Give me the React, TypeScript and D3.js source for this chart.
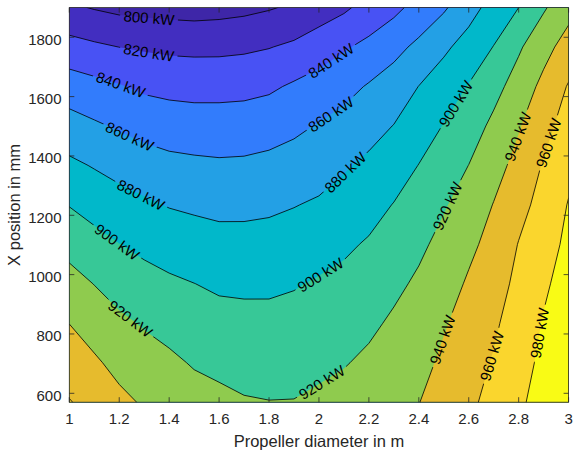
import React from 'react';
import * as d3 from 'd3';

// Grid: columns = propeller diameter (m), rows = X position (mm)
const diameters = [1.0, 1.1, 1.2, 1.3, 1.4, 1.5, 1.6, 1.7, 1.8, 1.9, 2.0, 2.1, 2.2, 2.3, 2.4, 2.5, 2.6, 2.7, 2.8, 2.9, 3.0];
const xPositions = [570, 703, 836, 969, 1102, 1235, 1368, 1501, 1634, 1767, 1900];
// power[i][j] in kW at xPositions[i], diameters[j]
const power = [
  [961.0, 953.4, 944.6, 938.0, 933.0, 927.5, 924.4, 921.4, 920.4, 920.6, 923.4, 926.3, 930.0, 934.5, 939.6, 948.3, 957.0, 964.8, 977.0, 987.0, 997.0],
  [950.6, 942.8, 934.4, 928.2, 923.7, 918.4, 915.7, 913.4, 912.8, 913.3, 916.0, 918.9, 923.4, 928.6, 934.1, 943.5, 952.1, 961.5, 972.9, 984.2, 993.8],
  [939.8, 931.4, 923.8, 918.3, 913.7, 909.3, 906.6, 905.4, 905.1, 906.2, 909.0, 911.8, 916.5, 922.8, 928.6, 938.4, 947.2, 957.1, 968.9, 981.3, 990.6],
  [927.1, 919.6, 912.3, 907.1, 903.2, 900.2, 897.1, 896.6, 896.8, 898.7, 901.9, 904.7, 909.2, 916.0, 923.0, 931.8, 942.3, 951.7, 964.8, 977.2, 987.4],
  [913.7, 906.5, 900.3, 895.4, 891.4, 888.8, 886.5, 886.3, 887.0, 889.1, 892.6, 896.9, 901.9, 908.3, 916.4, 925.3, 935.9, 946.2, 960.7, 972.0, 984.2],
  [899.3, 892.9, 887.5, 883.1, 879.0, 876.9, 875.2, 875.4, 876.7, 879.3, 882.4, 887.6, 893.2, 900.7, 908.4, 918.4, 928.0, 940.7, 953.8, 966.8, 981.0],
  [884.0, 878.7, 873.5, 868.8, 865.3, 863.8, 862.7, 863.2, 865.1, 868.0, 871.9, 878.0, 883.9, 890.7, 900.4, 909.5, 920.2, 932.7, 946.3, 961.6, 975.3],
  [867.7, 862.6, 857.8, 853.4, 850.6, 849.3, 849.0, 849.6, 851.9, 856.1, 861.3, 866.7, 873.3, 880.5, 890.4, 900.8, 910.7, 924.3, 938.4, 953.9, 968.4],
  [850.1, 845.8, 841.4, 836.6, 834.5, 833.5, 833.7, 834.5, 836.9, 842.6, 847.7, 853.8, 861.7, 868.7, 880.3, 889.5, 901.1, 913.6, 928.5, 945.1, 961.5],
  [827.3, 823.3, 819.9, 817.8, 816.0, 815.4, 815.5, 816.8, 819.3, 823.5, 830.7, 837.9, 844.9, 854.5, 864.2, 876.7, 887.3, 900.6, 917.4, 933.4, 948.3],
  [803.0, 798.8, 795.4, 794.1, 793.1, 792.1, 793.3, 795.3, 798.5, 802.8, 809.7, 816.8, 827.0, 835.0, 847.0, 857.4, 873.0, 887.0, 900.0, 917.8, 933.4],
];

const levels = [800, 820, 840, 860, 880, 900, 920, 940, 960, 980];
const xTicks = [1, 1.2, 1.4, 1.6, 1.8, 2, 2.2, 2.4, 2.6, 2.8, 3];
const yTicks = [600, 800, 1000, 1200, 1400, 1600, 1800];

// contour label anchors (level, diameter, x position)
const labelLevels = [800, 820, 840, 860, 880, 900, 920, 840, 860, 880, 900, 920, 900, 920, 940, 960, 940, 960, 980];
const labelDiam = [1.319, 1.319, 1.207, 1.243, 1.287, 1.191, 1.247, 2.044, 2.044, 2.104, 2.004, 2.016, 2.544, 2.512, 2.788, 2.92, 2.496, 2.692, 2.876];
const labelPos = [1863, 1754, 1643, 1468, 1269, 1110, 854, 1727, 1545, 1346, 1002, 631, 1578, 1232, 1467, 1444, 780, 726, 804];

const parula: number[][] = [
  [0.2422, 0.1504, 0.6603], [0.2504, 0.1650, 0.7076], [0.2578, 0.1818, 0.7511], [0.2647, 0.1978, 0.7952],
  [0.2706, 0.2147, 0.8364], [0.2751, 0.2342, 0.8710], [0.2783, 0.2559, 0.8991], [0.2803, 0.2782, 0.9221],
  [0.2813, 0.3006, 0.9414], [0.2810, 0.3228, 0.9579], [0.2795, 0.3447, 0.9717], [0.2760, 0.3667, 0.9829],
  [0.2699, 0.3892, 0.9906], [0.2602, 0.4123, 0.9952], [0.2440, 0.4358, 0.9988], [0.2206, 0.4603, 0.9973],
  [0.1963, 0.4847, 0.9892], [0.1834, 0.5074, 0.9798], [0.1786, 0.5289, 0.9682], [0.1764, 0.5499, 0.9520],
  [0.1687, 0.5703, 0.9359], [0.1540, 0.5902, 0.9218], [0.1460, 0.6091, 0.9079], [0.1380, 0.6276, 0.8973],
  [0.1248, 0.6459, 0.8883], [0.1113, 0.6635, 0.8763], [0.0952, 0.6798, 0.8598], [0.0689, 0.6948, 0.8394],
  [0.0297, 0.7082, 0.8163], [0.0036, 0.7203, 0.7917], [0.0067, 0.7312, 0.7660], [0.0433, 0.7411, 0.7394],
  [0.0964, 0.7500, 0.7120], [0.1408, 0.7584, 0.6842], [0.1717, 0.7670, 0.6554], [0.1938, 0.7758, 0.6251],
  [0.2161, 0.7843, 0.5923], [0.2470, 0.7918, 0.5567], [0.2906, 0.7973, 0.5188], [0.3406, 0.8008, 0.4789],
  [0.3909, 0.8029, 0.4354], [0.4456, 0.8024, 0.3909], [0.5044, 0.7993, 0.3480], [0.5616, 0.7942, 0.3045],
  [0.6174, 0.7876, 0.2612], [0.6720, 0.7793, 0.2227], [0.7242, 0.7698, 0.1910], [0.7738, 0.7598, 0.1646],
  [0.8203, 0.7498, 0.1535], [0.8634, 0.7406, 0.1596], [0.9035, 0.7330, 0.1774], [0.9393, 0.7288, 0.2100],
  [0.9728, 0.7298, 0.2394], [0.9956, 0.7434, 0.2371], [0.9970, 0.7659, 0.2199], [0.9952, 0.7893, 0.2028],
  [0.9892, 0.8136, 0.1885], [0.9786, 0.8386, 0.1766], [0.9676, 0.8639, 0.1643], [0.9610, 0.8890, 0.1537],
  [0.9597, 0.9135, 0.1423], [0.9628, 0.9373, 0.1265], [0.9691, 0.9606, 0.1064], [0.9769, 0.9839, 0.0805],
];

const FONT = '"Liberation Sans", Arial, Helvetica, sans-serif';
const AX = '#262626';

export default function App() {
  const W = 573, H = 454;
  const left = 69.3, right = 568.6, top = 7.6, bottom = 402.2;
  const xScale = d3.scaleLinear().domain([1, 3]).range([left, right]);
  const yScale = d3.scaleLinear().domain([570, 1900]).range([bottom, top]);

  const nx = diameters.length, ny = xPositions.length;
  const dxStep = (diameters[nx - 1] - diameters[0]) / (nx - 1);
  const dyStep = (xPositions[ny - 1] - xPositions[0]) / (ny - 1);
  const flat = power.flat();
  const contours = d3.contours().size([nx, ny]).thresholds(levels)(flat);

  const proj = (p: number[]) => [
    xScale(diameters[0] + (p[0] - 0.5) * dxStep),
    yScale(xPositions[0] + (p[1] - 0.5) * dyStep),
  ];
  const toPath = (mp: any) =>
    mp.coordinates
      .map((poly: any) =>
        poly
          .map((ring: any) => 'M' + ring.map((p: number[]) => proj(p).map((v) => v.toFixed(2)).join(',')).join('L') + 'Z')
          .join('')
      )
      .join('');

  const cLow = 792, cHigh = 980;
  const colorFor = (t: number) => {
    const f = (t - cLow) / (cHigh - cLow);
    const idx = Math.max(0, Math.min(63, Math.floor(f * 64)));
    const c = parula[idx];
    return d3.rgb(c[0] * 255, c[1] * 255, c[2] * 255).formatHex();
  };

  const inside = (p: number[]) => p[0] >= left - 0.5 && p[0] <= right + 0.5 && p[1] >= top - 0.5 && p[1] <= bottom + 0.5;

  const labels = labelLevels.map((lv, i) => {
    const c = contours.find((cc) => cc.value === lv)!;
    const L = [xScale(labelDiam[i]), yScale(labelPos[i])];
    let best = { d: Infinity, x: L[0], y: L[1], a: 0 };
    c.coordinates.forEach((poly: any) =>
      poly.forEach((ring: any) => {
        for (let k = 0; k < ring.length - 1; k++) {
          const p = proj(ring[k]), q = proj(ring[k + 1]);
          if (!inside(p) || !inside(q)) continue;
          const vx = q[0] - p[0], vy = q[1] - p[1];
          const len2 = vx * vx + vy * vy;
          if (len2 < 1e-9) continue;
          let t = ((L[0] - p[0]) * vx + (L[1] - p[1]) * vy) / len2;
          t = Math.max(0, Math.min(1, t));
          const cx = p[0] + t * vx, cy = p[1] + t * vy;
          const d = Math.hypot(L[0] - cx, L[1] - cy);
          if (d < best.d) {
            let a = (Math.atan2(vy, vx) * 180) / Math.PI;
            if (a > 90) a -= 180;
            if (a < -90) a += 180;
            best = { d, x: cx, y: cy, a };
          }
        }
      })
    );
    return { level: lv, x: best.x, y: best.y, a: best.a };
  });

  return (
    <svg width={W} height={H} style={{ position: 'absolute', left: 0, top: 0, background: '#fff' }} fontFamily={FONT}>
      <defs>
        <clipPath id="plotClip">
          <rect x={left} y={top} width={right - left} height={bottom - top} />
        </clipPath>
        <mask id="labelMask" maskUnits="userSpaceOnUse" x={0} y={0} width={W} height={H}>
          <rect x={0} y={0} width={W} height={H} fill="#fff" />
          {labels.map((l, i) => (
            <rect
              key={i}
              x={l.x - 29}
              y={l.y - 7.5}
              width={58}
              height={15}
              fill="#000"
              transform={`rotate(${l.a},${l.x},${l.y})`}
            />
          ))}
        </mask>
      </defs>
      <rect x={0} y={0} width={W} height={H} fill="#fff" />
      <g clipPath="url(#plotClip)">
        <rect x={left} y={top} width={right - left} height={bottom - top} fill={colorFor(cLow)} />
        {contours.map((c, i) => (
          <path key={i} d={toPath(c)} fill={colorFor(c.value)} fillRule="evenodd" stroke="none" />
        ))}
        <g mask="url(#labelMask)">
          {contours.map((c, i) => (
            <path key={i} d={toPath(c)} fill="none" stroke="#000" strokeWidth={0.8} strokeLinejoin="round" />
          ))}
        </g>
        {labels.map((l, i) => (
          <text
            key={i}
            x={l.x}
            y={l.y}
            transform={`rotate(${l.a},${l.x},${l.y})`}
            textAnchor="middle"
            dominantBaseline="central"
            fontSize={15}
            fill="#000"
          >
            {`${l.level} kW`}
          </text>
        ))}
      </g>
      {/* axes box */}
      <rect x={left} y={top} width={right - left} height={bottom - top} fill="none" stroke={AX} strokeWidth={0.8} />
      {xTicks.map((t, i) => (
        <g key={i}>
          <line x1={xScale(t)} x2={xScale(t)} y1={bottom} y2={bottom - 5} stroke={AX} strokeWidth={0.8} />
          <line x1={xScale(t)} x2={xScale(t)} y1={top} y2={top + 5} stroke={AX} strokeWidth={0.8} />
          <text x={xScale(t)} y={424} textAnchor="middle" fontSize={15} fill={AX}>
            {String(t)}
          </text>
        </g>
      ))}
      {yTicks.map((t, i) => (
        <g key={i}>
          <line x1={left} x2={left + 5} y1={yScale(t)} y2={yScale(t)} stroke={AX} strokeWidth={0.8} />
          <line x1={right} x2={right - 5} y1={yScale(t)} y2={yScale(t)} stroke={AX} strokeWidth={0.8} />
          <text x={61.5} y={yScale(t) + 2} textAnchor="end" dominantBaseline="central" fontSize={15} fill={AX}>
            {String(t)}
          </text>
        </g>
      ))}
      <text x={(left + right) / 2} y={447} textAnchor="middle" fontSize={16.5} fill={AX}>
        Propeller diameter in m
      </text>
      <text x={20.5} y={(top + bottom) / 2} textAnchor="middle" fontSize={16.5} fill={AX} transform={`rotate(-90,20.5,${(top + bottom) / 2})`}>
        X position in mm
      </text>
    </svg>
  );
}
